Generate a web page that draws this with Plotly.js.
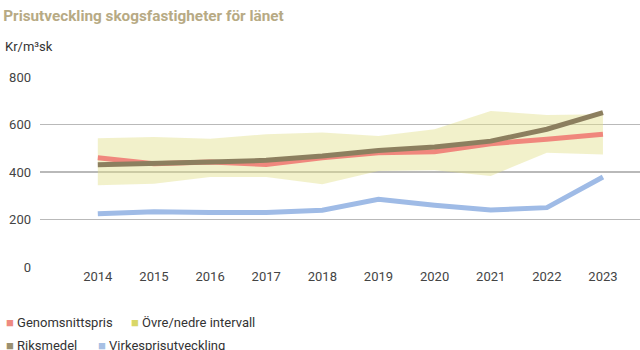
<!DOCTYPE html>
<html><head><meta charset="utf-8">
<script src="https://cdn.plot.ly/plotly-3.0.1.min.js"></script>
<style>html,body{margin:0;padding:0;background:#fff}#chart{width:640px;height:350px}</style>
</head><body><div id="chart"></div>
<script>
const years = [2014,2015,2016,2017,2018,2019,2020,2021,2022,2023];
const genomsnittspris = [460,435,442,432,460,481,485,519,538,559];
const riksmedel = [431,435,442,449,467,491,505,530,580,650];
const virkespris = [224,233,229,229,239,285,260,240,250,379];
const intervallOvre = [542,547,540,559,566,552,580,657,640,643];
const intervallNedre = [344,351,379,379,348,404,407,383,481,474];
const yTicks = [0,200,400,600,800];
const names = ['Genomsnittspris','Övre/nedre intervall','Riksmedel','Virkesprisutveckling'];

const FONT = 'Roboto, "Noto Sans", sans-serif';
const cRed = '#f0877d', cBand = 'rgba(226,223,140,0.45)', cBrown = '#8c7f5f', cBlue = '#9fbbe6';
const legColors = ['#ee8a80', '#d9d768', '#9b9070', '#a7c0e4'];

const traces = [
  {x: years, y: intervallOvre, name:names[1], mode:'lines', line:{width:0, color:cBand}, showlegend:false},
  {x: years, y: intervallNedre, name:names[1], mode:'lines', line:{width:0, color:cBand}, fill:'tonexty', fillcolor:cBand, showlegend:false},
  {x: years, y: virkespris, name:names[3], mode:'lines', line:{width:5, color:cBlue}, showlegend:false},
  {x: years, y: genomsnittspris, name:names[0], mode:'lines', line:{width:5, color:cRed}, showlegend:false},
  {x: years, y: riksmedel, name:names[2], mode:'lines', line:{width:5, color:cBrown}, showlegend:false}
];

// plot area in pixels: x 40..640, y 77..267
const px = v => (v - 40) / 600;
const py = v => (267 - v) / 190;

// legend entries: [pixel x of square, pixel y centre]
const legPos = [[4, 322], [129, 322], [4, 345], [96, 345]];
const annotations = names.map((n, i) => ({
  text: '<span style="color:' + legColors[i] + '">■</span> ' + n,
  xref:'paper', yref:'paper', x: px(legPos[i][0]), y: py(legPos[i][1]),
  xanchor:'left', yanchor:'middle', showarrow:false,
  font:{family:FONT, size:13, color:'#333'}
}));
annotations.push({text:'Kr/m³sk', xref:'paper', yref:'paper', x:px(3), y:py(47), xanchor:'left', yanchor:'middle',
  showarrow:false, font:{family:FONT, size:13, color:'#333'}});

const layout = {
  width:640, height:350,
  margin:{l:40, r:0, t:77, b:83},
  paper_bgcolor:'#fff', plot_bgcolor:'#fff',
  font:{family:FONT, size:13, color:'#444'},
  title:{text:'<b>Prisutveckling skogsfastigheter för länet</b>', font:{family:FONT, size:15.3, color:'#b7aa84'},
    x:0.005, xanchor:'left', xref:'container', y:0.955, yanchor:'middle', yref:'container'},
  xaxis:{range:[2012.97,2023.66], tickvals:years, ticktext:years.map(String), showgrid:false, zeroline:false,
    showline:false, ticks:'', tickfont:{family:FONT, size:13, color:'#444'}, fixedrange:true},
  yaxis:{range:[0,800], tickvals:yTicks, showgrid:true, gridcolor:'#b9b9b9', gridwidth:1.5, zeroline:false,
    ticks:'', tickfont:{family:FONT, size:13, color:'#444'}, ticklabelstandoff:8, fixedrange:true},
  showlegend:false,
  annotations: annotations
};

Plotly.newPlot('chart', traces, layout, {displayModeBar:false, staticPlot:true});
</script></body></html>
